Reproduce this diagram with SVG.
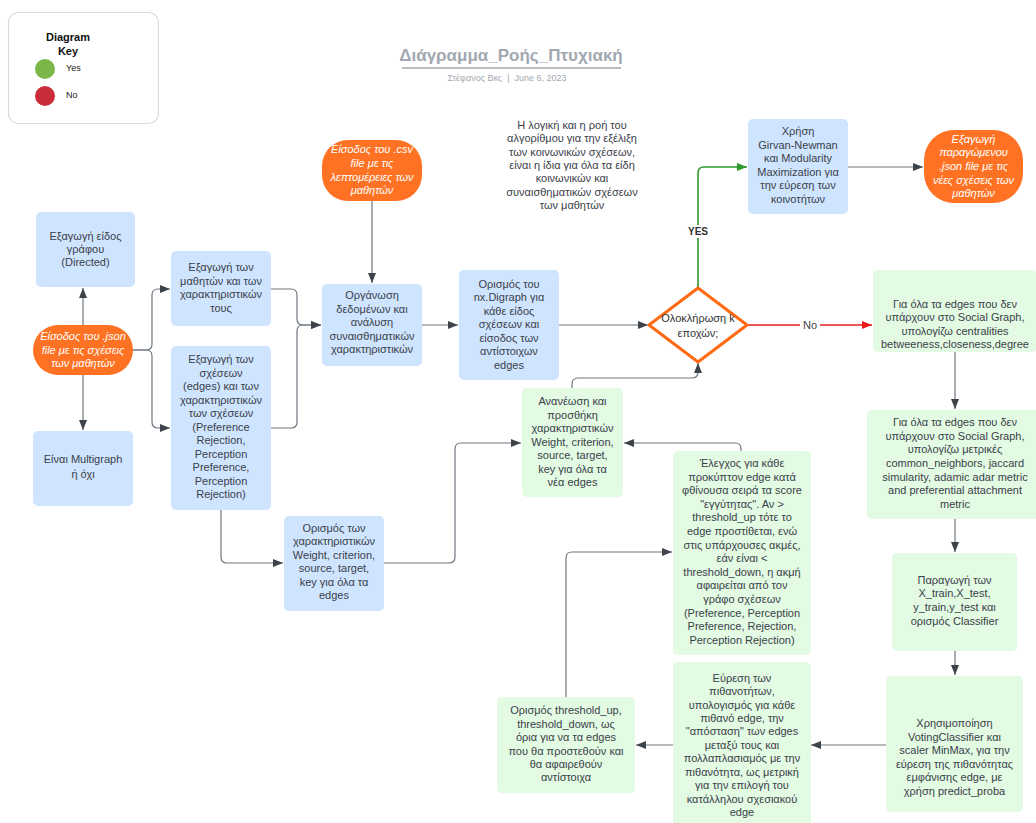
<svg xmlns="http://www.w3.org/2000/svg" width="1036" height="823" viewBox="0 0 1036 823">
  <style>
    .t { font-family: "Liberation Sans", Arial, sans-serif; font-size: 11px; fill: #3a414a; text-anchor: middle; }
    .w { font-family: "Liberation Sans", Arial, sans-serif; font-size: 11px; fill: #ffffff; font-style: italic; text-anchor: middle; }
    .blue { fill: #cfe4ff; }
    .green { fill: #e3fae3; }
    .orange { fill: #ff7223; }
    .c { fill: none; stroke: #6f7680; stroke-width: 1.2; marker-end: url(#arr); }
  </style>
  <defs>
    <marker id="arr" markerUnits="userSpaceOnUse" markerWidth="10" markerHeight="8" refX="10" refY="4" orient="auto">
      <path d="M0,0 L10,4 L0,8 z" fill="#3d434b"/>
    </marker>
    <marker id="arrG" markerUnits="userSpaceOnUse" markerWidth="10" markerHeight="8" refX="10" refY="4" orient="auto">
      <path d="M0,0 L10,4 L0,8 z" fill="#2e9a2e"/>
    </marker>
    <marker id="arrR" markerUnits="userSpaceOnUse" markerWidth="10" markerHeight="8" refX="10" refY="4" orient="auto">
      <path d="M0,0 L10,4 L0,8 z" fill="#e81c1c"/>
    </marker>
  </defs>

  <rect width="1036" height="823" fill="#ffffff"/>

  <!-- legend -->
  <g id="key">
    <rect x="8.5" y="12.5" width="150" height="111" rx="10" fill="#ffffff" stroke="#d8dce1" stroke-width="1.2"/>
    <text x="68" y="41" class="t" style="font-weight:bold;fill:#111">Diagram</text>
    <text x="68" y="55" class="t" style="font-weight:bold;fill:#111">Key</text>
    <circle cx="45" cy="69" r="10" fill="#7ab648"/>
    <circle cx="45" cy="96" r="10" fill="#c92d39"/>
    <text x="66" y="71" style="font-family:'Liberation Sans',Arial,sans-serif;font-size:9px;fill:#222">Yes</text>
    <text x="66" y="98" style="font-family:'Liberation Sans',Arial,sans-serif;font-size:9px;fill:#222">No</text>
  </g>

  <!-- heading -->
  <g id="title">
    <text x="511" y="61" style="font-family:'Liberation Sans',Arial,sans-serif;font-size:17px;font-weight:bold;fill:#a2a8b0;text-anchor:middle">Διάγραμμα_Ροής_Πτυχιακή</text>
    <line x1="402" y1="68" x2="621" y2="68" stroke="#a2a8b0" stroke-width="1.5"/>
    <text x="507" y="81" style="font-family:'Liberation Sans',Arial,sans-serif;font-size:9px;fill:#a2a8b0;text-anchor:middle">Στέφανος Βκς &#160;|&#160; June 6, 2023</text>
  </g>

  <!-- connectors -->
  <g id="connectors">
    <path class="c" d="M83,325 V288"/>
    <path class="c" d="M83,375 V430"/>
    <path class="c" d="M133,350 H146 Q152,350 152,344 V295 Q152,289 158,289 H170"/>
    <path class="c" d="M133,350 H146 Q152,350 152,356 V422 Q152,428 158,428 H170"/>
    <path class="c" d="M271,289 H291 Q297,289 297,295 V319 Q297,325 303,325 H321"/>
    <path class="c" d="M271,428 H291 Q297,428 297,422 V331 Q297,325 303,325 H321"/>
    <path class="c" d="M372,201 V283"/>
    <path class="c" d="M422,325 H458"/>
    <path class="c" d="M559,325 H648"/>
    <path d="M698,288 V173 Q698,167 704,167 H747" fill="none" stroke="#2e9a2e" stroke-width="1.6" marker-end="url(#arrG)"/>
    <path d="M747,325 H872" fill="none" stroke="#e81c1c" stroke-width="1.6" marker-end="url(#arrR)"/>
    <path class="c" d="M848,167 H923"/>
    <path class="c" d="M955,352 V409"/>
    <path class="c" d="M955,519 V552"/>
    <path class="c" d="M955,651 V675"/>
    <path class="c" d="M886,745 H811"/>
    <path class="c" d="M673,745 H636"/>
    <path class="c" d="M566,697 V558 Q566,552 572,552 H672"/>
    <path class="c" d="M741,451 V449 Q741,443 735,443 H624"/>
    <path class="c" d="M572,388 V384 Q572,378 578,378 H692 Q698,378 698,372 V363"/>
    <path class="c" d="M221,510 V557 Q221,563 227,563 H283"/>
    <path class="c" d="M384,563 H449 Q455,563 455,557 V449 Q455,443 461,443 H521"/>
  </g>

  <!-- connector labels -->
  <g id="labels">
    <rect x="684" y="225" width="28" height="13" fill="#ffffff"/>
    <text x="698" y="235" class="t" style="font-size:10px;font-weight:bold;fill:#333">YES</text>
    <rect x="800" y="319" width="20" height="12" fill="#ffffff"/>
    <text x="810" y="329" class="t" style="fill:#444">No</text>
  </g>

  <g id="note">
    <text class="t" x="572" y="129">Η λογική και η ροή του</text>
    <text class="t" x="572" y="142.3">αλγορίθμου για την εξέλιξη</text>
    <text class="t" x="572" y="155.6">των κοινωνικών σχέσεων,</text>
    <text class="t" x="572" y="168.9">είναι η ίδια για όλα τα είδη</text>
    <text class="t" x="572" y="182.2">κοινωνικών και</text>
    <text class="t" x="572" y="195.5">συναισθηματικών σχέσεων</text>
    <text class="t" x="572" y="208.8">των μαθητών</text>
  </g>

  <g id="graph-type">
    <rect class="blue" x="36" y="212" width="99" height="75" rx="5"/>
    <text class="t" x="85.5" y="240">Εξαγωγή είδος</text>
    <text class="t" x="85.5" y="253">γράφου</text>
    <text class="t" x="85.5" y="266">(Directed)</text>
  </g>

  <g id="json-input">
    <rect class="orange" x="33" y="325" width="100" height="50" rx="25"/>
    <text class="w" x="83" y="340">Είσοδος του .json</text>
    <text class="w" x="83" y="354">file με τις σχέσεις</text>
    <text class="w" x="83" y="367">των μαθητών</text>
  </g>

  <g id="multigraph">
    <rect class="blue" x="33" y="431" width="100" height="75" rx="5"/>
    <text class="t" x="83" y="463">Είναι Multigraph</text>
    <text class="t" x="83" y="478">ή όχι</text>
  </g>

  <g id="students">
    <rect class="blue" x="171" y="251" width="100" height="75" rx="5"/>
    <text class="t" x="221" y="271">Εξαγωγή των</text>
    <text class="t" x="221" y="285">μαθητών και των</text>
    <text class="t" x="221" y="298">χαρακτηριστικών</text>
    <text class="t" x="221" y="312">τους</text>
  </g>

  <g id="relations">
    <rect class="blue" x="171" y="346" width="100" height="164" rx="5"/>
    <text class="t" x="221" y="363">Εξαγωγή των</text>
    <text class="t" x="221" y="377">σχέσεων</text>
    <text class="t" x="221" y="390">(edges) και των</text>
    <text class="t" x="221" y="404">χαρακτηριστικών</text>
    <text class="t" x="221" y="417">των σχέσεων</text>
    <text class="t" x="221" y="431">(Preference</text>
    <text class="t" x="221" y="444">Rejection,</text>
    <text class="t" x="221" y="458">Perception</text>
    <text class="t" x="221" y="471">Preference,</text>
    <text class="t" x="221" y="485">Perception</text>
    <text class="t" x="221" y="498">Rejection)</text>
  </g>

  <g id="csv-input">
    <rect class="orange" x="322" y="140" width="100" height="61" rx="26"/>
    <text class="w" x="372" y="153">Είσοδος του .csv</text>
    <text class="w" x="372" y="167">file με τις</text>
    <text class="w" x="372" y="181">λεπτομέρειες των</text>
    <text class="w" x="372" y="194">μαθητών</text>
  </g>

  <g id="organise">
    <rect class="blue" x="322" y="284" width="100" height="82" rx="5"/>
    <text class="t" x="372" y="299">Οργάνωση</text>
    <text class="t" x="372" y="313">δεδομένων και</text>
    <text class="t" x="372" y="326">ανάλυση</text>
    <text class="t" x="372" y="340">συναισθηματικών</text>
    <text class="t" x="372" y="353">χαρακτηριστικών</text>
  </g>

  <g id="digraph">
    <rect class="blue" x="459" y="270" width="100" height="110" rx="5"/>
    <text class="t" x="509" y="288">Ορισμός του</text>
    <text class="t" x="509" y="301">nx.Digraph για</text>
    <text class="t" x="509" y="315">κάθε είδος</text>
    <text class="t" x="509" y="328">σχέσεων και</text>
    <text class="t" x="509" y="342">είσοδος των</text>
    <text class="t" x="509" y="355">αντίστοιχων</text>
    <text class="t" x="509" y="369">edges</text>
  </g>

  <g id="decision">
    <path d="M698,288 L747,325 L698,362 L649,325 Z" fill="#ffffff" stroke="#ff6a13" stroke-width="3" stroke-linejoin="round"/>
    <text class="t" x="698" y="322" style="fill:#333">Ολοκλήρωση k</text>
    <text class="t" x="698" y="337" style="fill:#333">εποχών;</text>
  </g>

  <g id="communities">
    <rect class="blue" x="748" y="119" width="100" height="95" rx="5"/>
    <text class="t" x="798" y="135">Χρήση</text>
    <text class="t" x="798" y="149">Girvan-Newman</text>
    <text class="t" x="798" y="162">και Modularity</text>
    <text class="t" x="798" y="176">Maximization για</text>
    <text class="t" x="798" y="189">την εύρεση των</text>
    <text class="t" x="798" y="203">κοινοτήτων</text>
  </g>

  <g id="json-output">
    <rect class="orange" x="924" y="130" width="99" height="73" rx="30"/>
    <text class="w" x="973.5" y="143">Εξαγωγή</text>
    <text class="w" x="973.5" y="156">παραγώμενου</text>
    <text class="w" x="973.5" y="170">.json file με τις</text>
    <text class="w" x="973.5" y="184">νέες σχέσεις των</text>
    <text class="w" x="973.5" y="197">μαθητών</text>
  </g>

  <g id="centralities">
    <rect class="green" x="873" y="270" width="164" height="82" rx="5"/>
    <text class="t" x="955" y="308">Για όλα τα edges που δεν</text>
    <text class="t" x="955" y="321">υπάρχουν στο Social Graph,</text>
    <text class="t" x="955" y="335">υπολογίζω centralities</text>
    <text class="t" x="955" y="348">betweeness,closeness,degree</text>
  </g>

  <g id="metrics">
    <rect class="green" x="867" y="410" width="176" height="109" rx="5"/>
    <text class="t" x="955" y="426">Για όλα τα edges που δεν</text>
    <text class="t" x="955" y="440">υπάρχουν στο Social Graph,</text>
    <text class="t" x="955" y="453">υπολογίζω μετρικές</text>
    <text class="t" x="955" y="467">common_neighbors, jaccard</text>
    <text class="t" x="955" y="481">simularity, adamic adar metric</text>
    <text class="t" x="955" y="494">and preferential attachment</text>
    <text class="t" x="955" y="508">metric</text>
  </g>

  <g id="train-test">
    <rect class="green" x="892" y="553" width="125" height="98" rx="5"/>
    <text class="t" x="954.5" y="584">Παραγωγή των</text>
    <text class="t" x="954.5" y="597">X_train,X_test,</text>
    <text class="t" x="954.5" y="611">y_train,y_test και</text>
    <text class="t" x="954.5" y="625">ορισμός Classifier</text>
  </g>

  <g id="voting">
    <rect class="green" x="886" y="676" width="137" height="136" rx="5"/>
    <text class="t" x="954.5" y="727">Χρησιμοποίηση</text>
    <text class="t" x="954.5" y="741">VotingClassifier και</text>
    <text class="t" x="954.5" y="754">scaler MinMax, για την</text>
    <text class="t" x="954.5" y="768">εύρεση της πιθανότητας</text>
    <text class="t" x="954.5" y="781">εμφάνισης edge, με</text>
    <text class="t" x="954.5" y="795">χρήση predict_proba</text>
  </g>

  <g id="probabilities">
    <rect class="green" x="673" y="662" width="138" height="166" rx="5"/>
    <text class="t" x="742" y="682">Εύρεση των</text>
    <text class="t" x="742" y="695">πιθανοτήτων,</text>
    <text class="t" x="742" y="709">υπολογισμός για κάθε</text>
    <text class="t" x="742" y="722">πιθανό edge, την</text>
    <text class="t" x="742" y="735">"απόσταση" των edges</text>
    <text class="t" x="742" y="749">μεταξύ τους και</text>
    <text class="t" x="742" y="762">πολλαπλασιαμός με την</text>
    <text class="t" x="742" y="776">πιθανότητα, ως μετρική</text>
    <text class="t" x="742" y="789">για την επιλογή του</text>
    <text class="t" x="742" y="803">κατάλληλου σχεσιακού</text>
    <text class="t" x="742" y="816">edge</text>
  </g>

  <g id="thresholds">
    <rect class="green" x="497" y="697" width="138" height="96" rx="5"/>
    <text class="t" x="566" y="714">Ορισμός threshold_up,</text>
    <text class="t" x="566" y="728">threshold_down, ως</text>
    <text class="t" x="566" y="741">όρια για να τα edges</text>
    <text class="t" x="566" y="755">που θα προστεθούν και</text>
    <text class="t" x="566" y="768">θα αφαιρεθούν</text>
    <text class="t" x="566" y="781">αντίστοιχα</text>
  </g>

  <g id="check">
    <rect class="green" x="673" y="451" width="138" height="204" rx="5"/>
    <text class="t" x="742" y="467">Έλεγχος για κάθε</text>
    <text class="t" x="742" y="480.6">προκύπτον edge κατά</text>
    <text class="t" x="742" y="494.2">φθίνουσα σειρά τα score</text>
    <text class="t" x="742" y="507.8">"εγγύτητας". Αν &gt;</text>
    <text class="t" x="742" y="521.4">threshold_up τότε το</text>
    <text class="t" x="742" y="535">edge προστίθεται, ενώ</text>
    <text class="t" x="742" y="548.6">στις υπάρχουσες ακμές,</text>
    <text class="t" x="742" y="562.2">εάν είναι &lt;</text>
    <text class="t" x="742" y="575.8">threshold_down, η ακμή</text>
    <text class="t" x="742" y="589.4">αφαιρείται από τον</text>
    <text class="t" x="742" y="603">γράφο σχέσεων</text>
    <text class="t" x="742" y="616.6">(Preference, Perception</text>
    <text class="t" x="742" y="630.2">Preference, Rejection,</text>
    <text class="t" x="742" y="643.8">Perception Rejection)</text>
  </g>

  <g id="update">
    <rect class="green" x="522" y="388" width="101" height="109" rx="5"/>
    <text class="t" x="572.5" y="405">Ανανέωση και</text>
    <text class="t" x="572.5" y="419">προσθήκη</text>
    <text class="t" x="572.5" y="432">χαρακτηριστικών</text>
    <text class="t" x="572.5" y="446">Weight, criterion,</text>
    <text class="t" x="572.5" y="459">source, target,</text>
    <text class="t" x="572.5" y="473">key για όλα τα</text>
    <text class="t" x="572.5" y="486">νέα edges</text>
  </g>

  <g id="attributes">
    <rect class="blue" x="284" y="516" width="100" height="95" rx="5"/>
    <text class="t" x="334" y="532">Ορισμός των</text>
    <text class="t" x="334" y="545">χαρακτηριστικών</text>
    <text class="t" x="334" y="559">Weight, criterion,</text>
    <text class="t" x="334" y="572">source, target,</text>
    <text class="t" x="334" y="586">key για όλα τα</text>
    <text class="t" x="334" y="599">edges</text>
  </g>
</svg>
